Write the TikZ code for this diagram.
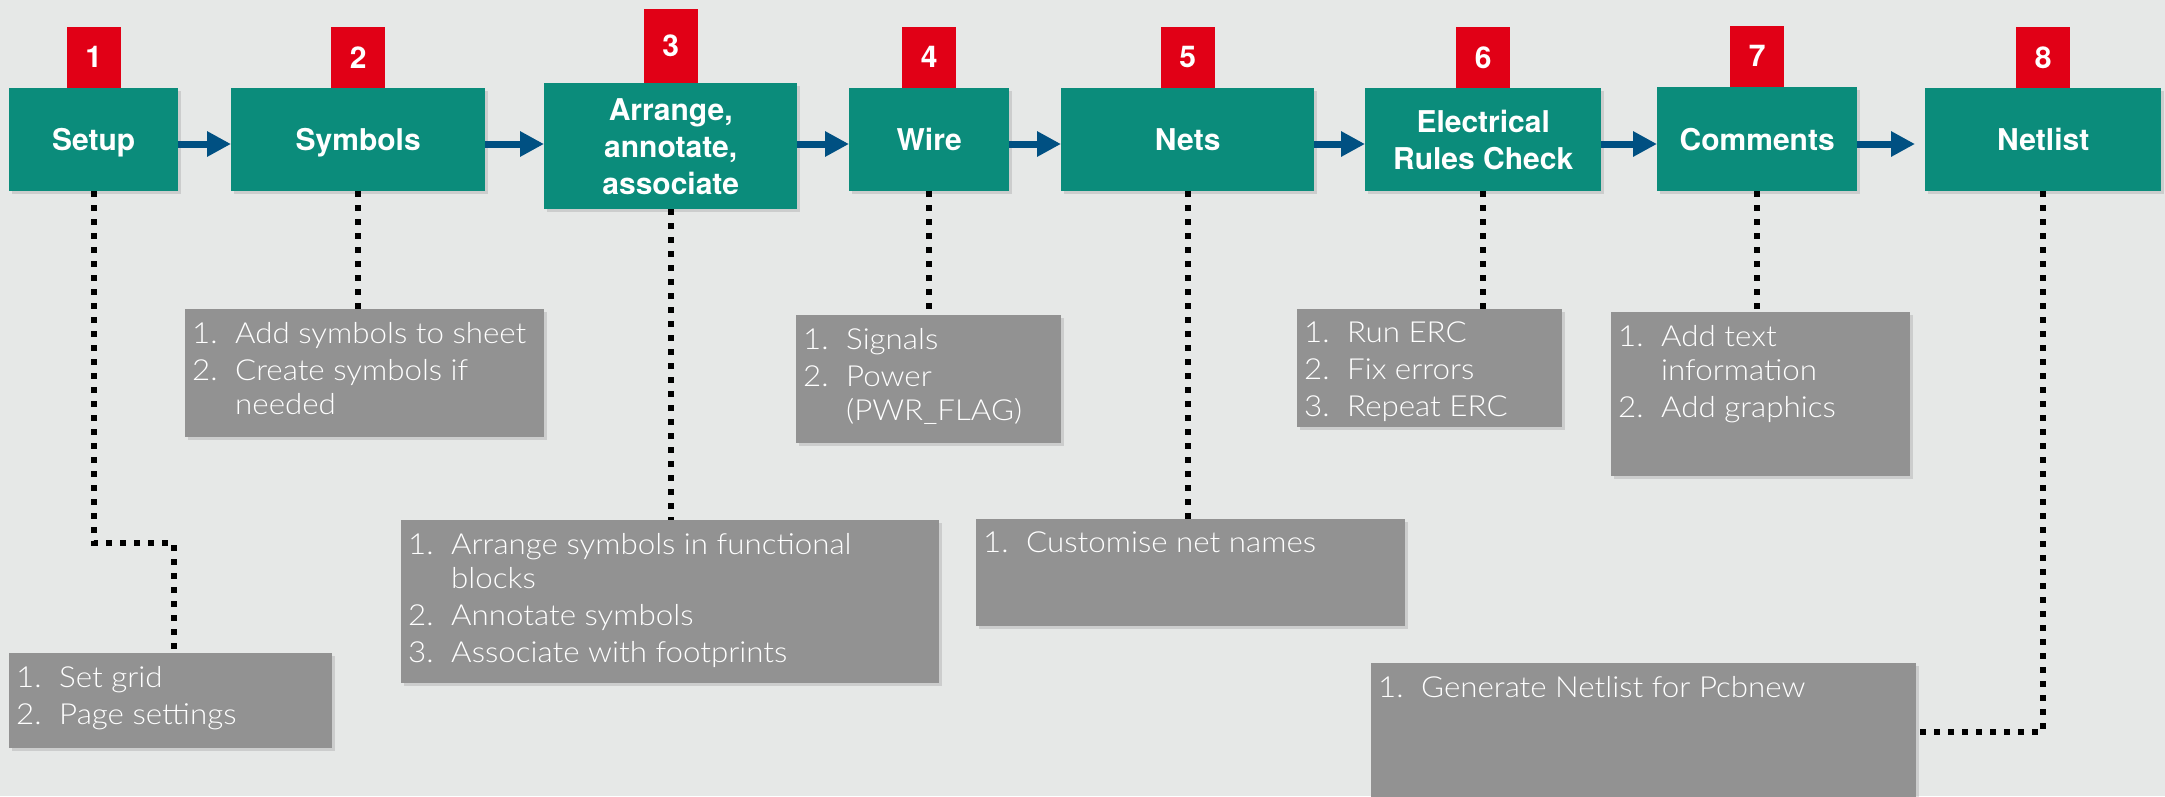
\documentclass[tikz,border=0pt]{standalone}
\usepackage{fontspec}
\setmainfont{TeX Gyre Heros}
\newfontfamily\lightfont{Lato Light}[FakeStretch=1.08]
\usetikzlibrary{positioning,shadows,arrows.meta}

\definecolor{bgc}{HTML}{E6E8E7}
\definecolor{tealc}{HTML}{0B8C7B}
\definecolor{redc}{HTML}{E10016}
\definecolor{grayc}{HTML}{929292}
\definecolor{arrowc}{HTML}{005082}

\newcommand\nr[1]{\makebox[43pt][l]{#1}}
\newcommand\ind{\hspace*{43pt}}

\tikzset{
  stepbox/.style={fill=tealc, text=white, anchor=north west, inner sep=0pt, align=center,
    font=\bfseries\fontsize{30}{37}\selectfont,
    drop shadow={shadow xshift=3pt, shadow yshift=-3pt, opacity=.25}},
  oneline/.style={text height=22pt, text depth=0pt},
  numbox/.style={fill=redc, text=white, minimum width=54pt, minimum height=61pt,
    inner sep=0pt, font=\bfseries\fontsize{30}{36}\selectfont},
  notebox/.style={fill=grayc, anchor=north west, inner sep=0pt,
    drop shadow={shadow xshift=3pt, shadow yshift=-3pt, opacity=.25}},
  notetext/.style={anchor=north west, inner sep=0pt, xshift=7pt, yshift=-13pt, align=left,
    text=white, font=\lightfont\fontsize{29}{34}\selectfont},
  flow/.style={draw=arrowc, line width=7pt, -{Triangle[length=24pt,width=24pt]}},
  link/.style={draw=black, line width=6pt, dash pattern=on 6pt off 8pt},
}

\begin{document}
\begin{tikzpicture}[x=1pt,y=-1pt]
    \useasboundingbox (0,0) rectangle (2165,796);
    \fill[bgc] (0,0) rectangle (2165,796);

    % steps
    \node[stepbox, oneline, minimum width=169pt, minimum height=103pt] (s1) at (9,88) {Setup};
    \node[stepbox, oneline, minimum width=254pt, minimum height=103pt] (s2) at (231,88) {Symbols};
    \node[stepbox, minimum width=253pt, minimum height=126pt] (s3) at (544,83) {Arrange,\\annotate,\\associate};
    \node[stepbox, oneline, minimum width=160pt, minimum height=103pt] (s4) at (849,88) {Wire};
    \node[stepbox, oneline, minimum width=253pt, minimum height=103pt] (s5) at (1061,88) {Nets};
    \node[stepbox, minimum width=236pt, minimum height=103pt] (s6) at (1365,88) {Electrical\\Rules Check};
    \node[stepbox, oneline, minimum width=200pt, minimum height=104pt] (s7) at (1657,87) {Comments};
    \node[stepbox, oneline, minimum width=236pt, minimum height=103pt] (s8) at (1925,88) {Netlist};

    % numbers
    \node[numbox, above=0pt of s1] (n1) {1};
    \node[numbox, above=0pt of s2] (n2) {2};
    \node[numbox, minimum height=74pt, above=0pt of s3] (n3) {3};
    \node[numbox, above=0pt of s4] (n4) {4};
    \node[numbox, above=0pt of s5] (n5) {5};
    \node[numbox, above=0pt of s6] (n6) {6};
    \node[numbox, above=0pt of s7] (n7) {7};
    \node[numbox, above=0pt of s8] (n8) {8};

    % notes
    \node[notebox, minimum width=323pt, minimum height=95pt,
      label={[notetext]north west:{\nr{1.}Set grid\\[3pt]\nr{2.}Page settings}}] (l1) at (9,653) {};
    \node[notebox, minimum width=359pt, minimum height=128pt,
      label={[notetext]north west:{\nr{1.}Add symbols to sheet\\[3pt]\nr{2.}Create symbols if\\\ind needed}}] (l2) at (185,309) {};
    \node[notebox, minimum width=538pt, minimum height=163pt,
      label={[notetext]north west:{\nr{1.}Arrange symbols in functional\\\ind blocks\\[3pt]\nr{2.}Annotate symbols\\[3pt]\nr{3.}Associate with footprints}}] (l3) at (401,520) {};
    \node[notebox, minimum width=265pt, minimum height=128pt,
      label={[notetext]north west:{\nr{1.}Signals\\[3pt]\nr{2.}Power\\\ind (PWR\_FLAG)}}] (l4) at (796,315) {};
    \node[notebox, minimum width=429pt, minimum height=107pt,
      label={[notetext]north west:{\nr{1.}Customise net names}}] (l5) at (976,519) {};
    \node[notebox, minimum width=265pt, minimum height=118pt,
      label={[notetext]north west:{\nr{1.}Run ERC\\[3pt]\nr{2.}Fix errors\\[3pt]\nr{3.}Repeat ERC}}] (l6) at (1297,309) {};
    \node[notebox, minimum width=299pt, minimum height=164pt,
      label={[notetext]north west:{\nr{1.}Add text\\\ind information\\[3pt]\nr{2.}Add graphics}}] (l7) at (1611,312) {};
    \node[notebox, minimum width=545pt, minimum height=137pt,
      label={[notetext]north west:{\nr{1.}Generate Netlist for Pcbnew}}] (l8) at (1371,663) {};

    % arrows
    \coordinate (ay) at (0,144);
    \draw[flow] (s1.east |- ay) -- (s2.west |- ay);
    \draw[flow] (s2.east |- ay) -- (s3.west |- ay);
    \draw[flow] (s3.east |- ay) -- (s4.west |- ay);
    \draw[flow] (s4.east |- ay) -- (s5.west |- ay);
    \draw[flow] (s5.east |- ay) -- (s6.west |- ay);
    \draw[flow] (s6.east |- ay) -- (s7.west |- ay);
    \draw[flow] (s7.east |- ay) -- ([xshift=-10pt]s8.west |- ay);

    % links
    \coordinate (k1) at (174,543);
    \draw[link] (s1.south) |- (k1) -- (k1 |- l1.north);
    \draw[link] (s2.south) -- (s2.south |- l2.north);
    \draw[link] (s3.south) -- (s3.south |- l3.north);
    \draw[link] (s4.south) -- (s4.south |- l4.north);
    \draw[link] (s5.south) -- (s5.south |- l5.north);
    \draw[link] (s6.south) -- (s6.south |- l6.north);
    \draw[link] (s7.south) -- (s7.south |- l7.north);
    \draw[link] (s8.south) |- (l8.east);
\end{tikzpicture}
\end{document}
